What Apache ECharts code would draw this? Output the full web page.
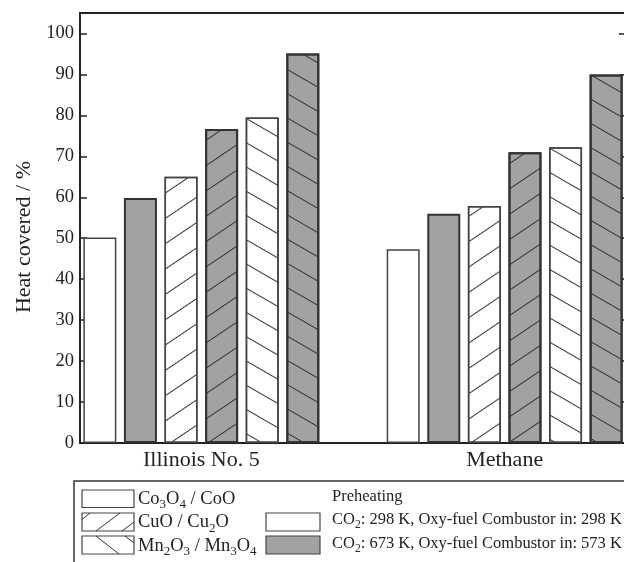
<!DOCTYPE html>
<html>
<head>
<meta charset="utf-8">
<script src="https://cdn.jsdelivr.net/npm/echarts@6/dist/echarts.min.js"></script>
<style>
  html, body { margin: 0; padding: 0; background: #fff; }
  #chart { width: 624px; height: 562px; }
</style>
</head>
<body>
<div id="chart"></div>
<script>
// Fuels on the horizontal axis
const categories = ['Illinois No. 5', 'Methane'];
// Heat covered (%) per oxygen carrier; "Low" = CO2 298 K / combustor 298 K, "High" = CO2 673 K / combustor 573 K
const coLow  = [50.2, 47.3];
const coHigh = [59.8, 56.0];
const cuLow  = [65.0, 57.9];
const cuHigh = [76.7, 71.0];
const mnLow  = [79.5, 72.2];
const mnHigh = [95.1, 90.0];
// Value-axis tick labels
const yTickMax = 100;
const yTickStep = 10;

const FONT = 'Liberation Serif';
const INK = '#222';
const GRAY = '#a2a2a5';

// Each fuel sits at position index + 1 on the horizontal value axis
const toPoints = vals => vals.map((v, i) => [i + 1, v]);

function hatch(angleDeg) {
  return {
    symbol: 'rect',
    symbolSize: 1,
    dashArrayX: [1, 0],
    dashArrayY: [1, 19.8],
    rotation: angleDeg * Math.PI / 180,
    color: '#333'
  };
}

function barSeries(name, vals, fill, decal) {
  const s = {
    name: name,
    type: 'bar',
    data: toPoints(vals),
    barWidth: 33,
    barGap: '23%',
    itemStyle: {
      color: fill,
      borderColor: fill === GRAY ? '#333' : '#444',
      borderWidth: fill === GRAY ? 2 : 1.5
    },
    emphasis: { disabled: true },
    animation: false
  };
  if (decal) s.itemStyle.decal = decal;
  return s;
}

const chart = echarts.init(document.getElementById('chart'), null, { renderer: 'canvas' });

// Legend labels (rich text for the subscripts)
const legendText = (text, x, y, size, sub) => ({
  type: 'text',
  style: {
    text: text,
    x: x, y: y,
    fill: INK,
    fontFamily: FONT,
    fontSize: size,
    verticalAlign: 'middle',
    rich: {
      a: { fontFamily: FONT, fontSize: size, lineHeight: size + 6, fill: INK },
      s: { fontFamily: FONT, fontSize: sub, lineHeight: sub, verticalAlign: 'bottom', fill: INK }
    }
  }
});
const swatch = (x, y, w, h, fill) => ({
  type: 'rect',
  shape: { x: x, y: y, width: w, height: h },
  style: { fill: fill, stroke: '#444', lineWidth: 1.2 }
});
const seg = (x1, y1, x2, y2) => ({
  type: 'line',
  shape: { x1: x1, y1: y1, x2: x2, y2: y2 },
  style: { stroke: '#333', lineWidth: 1 }
});

const graphics = [
  { type: 'rect', shape: { x: 74, y: 481, width: 620, height: 120 },
    style: { fill: 'none', stroke: '#333', lineWidth: 1.5 } },
  swatch(82, 490, 52, 17.5, '#fff'),
  swatch(82, 513, 52, 18, '#fff'),
  seg(82, 519.5, 90, 513), seg(96, 531, 120, 513), seg(122, 531, 134, 522),
  swatch(82, 536, 52, 18, '#fff'),
  seg(96, 536, 119, 554), seg(125, 536, 134, 543),
  swatch(266, 513, 54, 18, '#fff'),
  swatch(266, 536, 54, 18, GRAY),
  legendText('{a|Co}{s|3}{a|O}{s|4}{a| / CoO}', 138, 499, 18.5, 13),
  legendText('{a|CuO / Cu}{s|2}{a|O}', 138, 522.5, 18.5, 13),
  legendText('{a|Mn}{s|2}{a|O}{s|3}{a| / Mn}{s|3}{a|O}{s|4}', 138, 546, 18.5, 13),
  legendText('{a|Preheating}', 332, 497, 16.5, 11.5),
  legendText('{a|CO}{s|2}{a|: 298 K, Oxy-fuel Combustor in: 298 K}', 332, 520, 16.5, 11.5),
  legendText('{a|CO}{s|2}{a|: 673 K, Oxy-fuel Combustor in: 573 K}', 332, 544, 16.5, 11.5)
];

const yAxisBase = {
  type: 'value',
  min: 0,
  max: 105,
  interval: yTickStep,
  splitLine: { show: false },
  axisLine: { show: true, lineStyle: { color: INK, width: 2 } },
  axisTick: { show: true, inside: true, length: 7, lineStyle: { color: INK, width: 1.5 } }
};

chart.setOption({
  animation: false,
  backgroundColor: '#fff',
  grid: {
    left: 80, top: 13, width: 546, height: 430,
    containLabel: false,
    outerBoundsMode: 'none',
    show: true, borderColor: INK, borderWidth: 2, backgroundColor: 'transparent'
  },
  xAxis: {
    type: 'value',
    min: 0.6,
    max: 2.4,
    splitLine: { show: false },
    axisLine: { show: true, lineStyle: { color: INK, width: 2 } },
    axisTick: { show: false },
    axisLabel: {
      customValues: [1, 2],
      formatter: v => categories[Math.round(v) - 1] || '',
      fontFamily: FONT, fontSize: 22, color: INK, margin: 6
    }
  },
  yAxis: [
    Object.assign({}, yAxisBase, {
      position: 'left',
      name: 'Heat covered / %',
      nameLocation: 'middle',
      nameGap: 40,
      nameTextStyle: { fontFamily: FONT, fontSize: 22, color: INK, padding: [0, 18, 0, 0] },
      axisLabel: {
        fontFamily: FONT, fontSize: 18.5, color: INK, margin: 6,
        showMaxLabel: false,
        formatter: v => (v <= yTickMax ? String(v) : '')
      }
    }),
    Object.assign({}, yAxisBase, {
      position: 'right',
      axisLabel: { show: false }
    })
  ],
  series: [
    barSeries('Co3O4 / CoO, 298 K', coLow, '#fff', null),
    barSeries('Co3O4 / CoO, 673 K', coHigh, GRAY, null),
    barSeries('CuO / Cu2O, 298 K', cuLow, '#fff', hatch(-34)),
    barSeries('CuO / Cu2O, 673 K', cuHigh, GRAY, hatch(-34)),
    barSeries('Mn2O3 / Mn3O4, 298 K', mnLow, '#fff', hatch(30)),
    barSeries('Mn2O3 / Mn3O4, 673 K', mnHigh, GRAY, hatch(30))
  ],
  graphic: graphics
});
</script>
</body>
</html>
